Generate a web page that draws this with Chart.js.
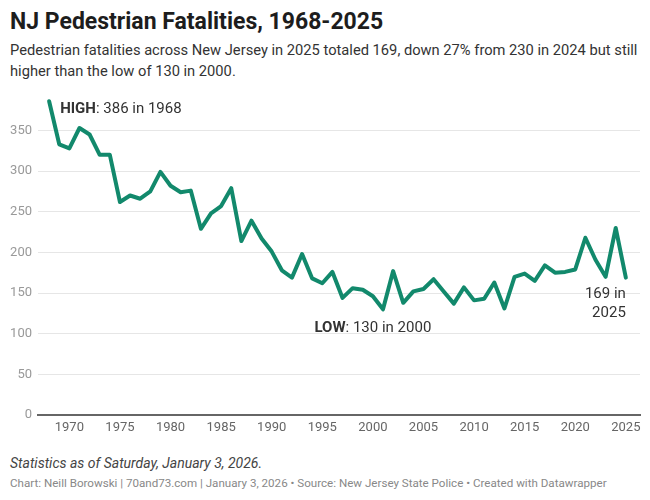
<!DOCTYPE html>
<html>
<head>
<meta charset="utf-8">
<script src="https://cdn.jsdelivr.net/npm/chart.js@4.4.0/dist/chart.umd.min.js"></script>
<style>
    body { margin: 0; background: #fff; font-family: Roboto, sans-serif; width: 650px; height: 500px; position: relative; overflow: hidden; }
    #title { position: absolute; left: 10px; top: 8px; font-size: 23px; font-weight: 700; color: #1d1d1d; white-space: nowrap; }
    #subtitle { position: absolute; left: 10px; top: 40px; width: 640px; font-size: 14.7px; line-height: 21px; color: #333; }
    #chart-box { position: absolute; left: 0; top: 76px; width: 650px; height: 369px; }
    #note { position: absolute; left: 10px; top: 455px; font-size: 14px; font-style: italic; color: #444; }
    #credit { position: absolute; left: 10px; top: 476px; font-size: 11.6px; color: #888; white-space: nowrap; }
</style>
</head>
<body>
<div id="title">NJ Pedestrian Fatalities, 1968-2025</div>
<div id="subtitle">Pedestrian fatalities across New Jersey in 2025 totaled 169, down 27% from 230 in 2024 but still higher than the low of 130 in 2000.</div>
<div id="chart-box"><canvas id="fatalities-chart"></canvas></div>
<div id="note">Statistics as of Saturday, January 3, 2026.</div>
<div id="credit">Chart: Neill Borowski | 70and73.com | January 3, 2026 • Source: New Jersey State Police • Created with Datawrapper</div>

<script>
// Data
const years = [
    1968, 1969, 1970, 1971, 1972, 1973, 1974, 1975, 1976, 1977,
    1978, 1979, 1980, 1981, 1982, 1983, 1984, 1985, 1986, 1987,
    1988, 1989, 1990, 1991, 1992, 1993, 1994, 1995, 1996, 1997,
    1998, 1999, 2000, 2001, 2002, 2003, 2004, 2005, 2006, 2007,
    2008, 2009, 2010, 2011, 2012, 2013, 2014, 2015, 2016, 2017,
    2018, 2019, 2020, 2021, 2022, 2023, 2024, 2025
];
const fatalities = [
    386, 333, 328, 353, 345, 320, 320, 262, 270, 266,
    275, 299, 282, 274, 276, 229, 248, 257, 279, 214,
    239, 217, 201, 178, 169, 198, 168, 162, 176, 144,
    156, 154, 146, 130, 177, 138, 152, 155, 167, 152,
    137, 157, 141, 143, 163, 131, 170, 174, 165, 184,
    175, 176, 179, 218, 191, 170, 230, 169
];
const xTicks = [1970, 1975, 1980, 1985, 1990, 1995, 2000, 2005, 2010, 2015, 2020, 2025];
const yTicks = [0, 50, 100, 150, 200, 250, 300, 350];

// Text labels placed next to points of the series
const annotations = [
    { year: 1968, value: 386, bold: 'HIGH', text: ': 386 in 1968', align: 'left', dx: 11, dy: 8 },
    { year: 2000, value: 130, bold: 'LOW', text: ': 130 in 2000', align: 'center', dx: 0, dy: 19 },
    { year: 2025, value: 169, lines: ['169 in', '2025'], align: 'right', dx: 0, dy: 17 }
];

const labelPlugin = {
    id: 'pointLabels',
    afterDatasetsDraw(chart) {
        const ctx = chart.ctx;
        const xs = chart.scales.x;
        const ys = chart.scales.y;
        ctx.save();
        ctx.fillStyle = '#333';
        ctx.textBaseline = 'middle';
        annotations.forEach(a => {
            const px = xs.getPixelForValue(a.year) + a.dx;
            const py = ys.getPixelForValue(a.value) + a.dy;
            if (a.lines) {
                ctx.font = '15px Roboto';
                ctx.textAlign = a.align;
                a.lines.forEach((line, i) => ctx.fillText(line, px, py + i * 19));
                return;
            }
            ctx.font = 'bold 15px Roboto';
            const wBold = ctx.measureText(a.bold).width;
            ctx.font = '15px Roboto';
            const wText = ctx.measureText(a.text).width;
            let left = px;
            if (a.align === 'center') left = px - (wBold + wText) / 2;
            ctx.textAlign = 'left';
            ctx.font = 'bold 15px Roboto';
            ctx.fillText(a.bold, left, py);
            ctx.font = '15px Roboto';
            ctx.fillText(a.text, left + wBold, py);
        });
        ctx.restore();
    }
};

const ctx = document.getElementById('fatalities-chart').getContext('2d');
new Chart(ctx, {
    type: 'line',
    data: {
        datasets: [{
            data: years.map((y, i) => ({ x: y, y: fatalities[i] })),
            borderColor: '#12896c',
            borderWidth: 4,
            borderJoinStyle: 'round',
            borderCapStyle: 'round',
            pointRadius: 0,
            tension: 0,
            fill: false
        }]
    },
    options: {
        responsive: true,
        maintainAspectRatio: false,
        animation: false,
        layout: { padding: { top: 8, right: 10, left: 0, bottom: 0 } },
        plugins: {
            legend: { display: false },
            tooltip: { enabled: false }
        },
        scales: {
            x: {
                type: 'linear',
                min: 1966.9,
                max: 2026.4,
                afterBuildTicks: axis => { axis.ticks = xTicks.map(v => ({ value: v })); },
                afterFit: axis => { axis.height = 30; },
                grid: { display: false, drawTicks: false },
                border: { display: true, color: '#666', width: 2 },
                ticks: {
                    padding: 5,
                    color: '#666',
                    font: { family: 'Roboto', size: 13 },
                    maxRotation: 0,
                    callback: v => String(v)
                }
            },
            y: {
                min: 0,
                max: 400,
                afterBuildTicks: axis => { axis.ticks = yTicks.map(v => ({ value: v })); },
                afterFit: axis => { axis.width = 38; },
                grid: {
                    drawTicks: false,
                    color: c => c.tick && c.tick.value === 0 ? 'rgba(0,0,0,0)' : '#e6e6e6',
                    lineWidth: 1
                },
                border: { display: false },
                ticks: {
                    padding: 6,
                    color: '#999',
                    font: { family: 'Roboto', size: 13 }
                }
            }
        }
    },
    plugins: [labelPlugin]
});
</script>
</body>
</html>
